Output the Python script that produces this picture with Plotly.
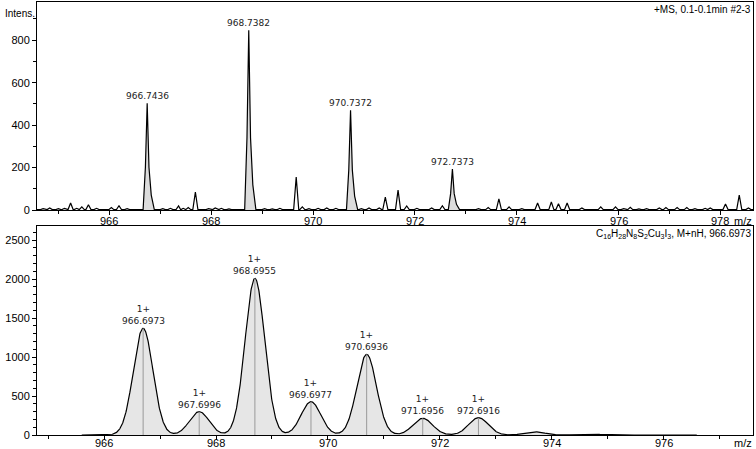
import numpy as np
import plotly.graph_objects as go

# ---------------- data ----------------
# top panel: measured spectrum (+MS)
main_mz = [966.7436, 968.7382, 970.7372, 972.7373]
main_int = [503, 847, 470, 193]
noise_mz = [964.70, 964.83, 965.00, 965.12, 965.24, 965.36, 965.46, 965.59, 965.75, 965.88,
            966.04, 966.19, 966.35, 967.05, 967.20, 967.36, 967.45, 967.55, 967.69, 967.95,
            968.08, 968.20, 968.35, 969.05, 969.20, 969.35, 969.67, 969.79, 969.92, 970.10,
            970.27, 970.45, 970.95, 971.10, 971.30, 971.42, 971.67, 971.84, 972.04, 972.20,
            972.33, 972.54, 973.05, 973.25, 973.44, 973.65, 973.85, 974.10, 974.41, 974.68,
            974.82, 974.99, 975.28, 975.45, 975.65, 975.94, 976.10, 976.23, 976.40, 976.55,
            976.80, 976.93, 977.15, 977.34, 977.50, 977.70, 977.80, 978.10, 978.37, 978.55]
noise_int = [6, 10, 6, 8, 33, 8, 15, 25, 8, 5,
             12, 20, 6, 6, 8, 19, 8, 12, 85, 6,
             10, 8, 5, 6, 5, 8, 155, 15, 6, 8,
             10, 8, 6, 10, 10, 61, 94, 19, 8, 5,
             10, 20, 5, 6, 12, 52, 15, 6, 33, 38,
             30, 33, 10, 5, 15, 15, 6, 13, 5, 6,
             10, 12, 12, 12, 6, 8, 10, 28, 70, 10]

# bottom panel: simulated isotope pattern
iso_mz = [966.6973, 967.6996, 968.6955, 969.6977, 970.6936, 971.6956, 972.6916, 973.69, 974.69]
iso_int = [1368, 299, 2009, 427, 1034, 214, 222, 42, 12]
iso_labels = ["966.6973", "967.6996", "968.6955", "969.6977", "970.6936", "971.6956", "972.6916"]
iso_charge = "1+"

top_x_ticks = [966, 968, 970, 972, 974, 976, 978]
bot_x_ticks = [966, 968, 970, 972, 974, 976]

# ---------------- build profiles ----------------
base = 2.0
verts = []
for m, h in zip(noise_mz, noise_int):
    verts += [(m - 0.05, base), (m, h), (m + 0.05, base)]
main_shapes = []
for m, h in zip(main_mz, main_int):
    seg = [(m - 0.08, base), (m - 0.035, h * 0.4), (m, h), (m + 0.035, h * 0.4),
           (m + 0.08, h * 0.14), (m + 0.14, base)]
    verts += seg
    main_shapes.append(seg)
verts += [(964.58, base), (978.64, base)]
verts.sort(key=lambda v: v[0])
top_x = [v[0] for v in verts]
top_y = [v[1] for v in verts]

sigma = 0.175
bx = np.arange(965.6, 976.6, 0.005)
by = np.zeros_like(bx)
for m, h in zip(iso_mz, iso_int):
    by += h * np.exp(-0.5 * ((bx - m) / sigma) ** 2)

# ---------------- figure ----------------
fig = go.Figure()
FILL = "#dcdcdc"
for seg in main_shapes:
    fig.add_trace(go.Scatter(x=[p[0] for p in seg], y=[p[1] for p in seg], mode="lines",
                             line=dict(width=0), fill="tozeroy", fillcolor=FILL,
                             xaxis="x", yaxis="y", hoverinfo="skip", showlegend=False))
fig.add_trace(go.Scatter(x=top_x, y=top_y, mode="lines", line=dict(color="black", width=1.2),
                         xaxis="x", yaxis="y", showlegend=False))

fig.add_trace(go.Scatter(x=bx, y=by, mode="lines", line=dict(color="black", width=1.2),
                         fill="tozeroy", fillcolor="#e6e6e6",
                         xaxis="x2", yaxis="y2", showlegend=False))
# stick lines at peak centres
sx, sy = [], []
for m, h in zip(iso_mz[:7], iso_int[:7]):
    sx += [m, m, None]
    sy += [0, h, None]
fig.add_trace(go.Scatter(x=sx, y=sy, mode="lines", line=dict(color="#9a9a9a", width=1),
                         xaxis="x2", yaxis="y2", showlegend=False, hoverinfo="skip"))

LAB = dict(family="DejaVu Sans", size=9, color="#222")
ann = []
for m, h in zip(main_mz, main_int):
    ann.append(dict(x=m, y=h, xref="x", yref="y", text=f"{m:.4f}", showarrow=False,
                    yanchor="bottom", yshift=0, font=LAB))
for m, h, t in zip(iso_mz, iso_int, iso_labels):
    ann.append(dict(x=m, y=h, xref="x2", yref="y2", text=f"{iso_charge}<br>{t}", showarrow=False,
                    yanchor="bottom", yshift=0, font=LAB))

TICKF = dict(family="Liberation Sans", size=11, color="black")
for v in top_x_ticks:
    ann.append(dict(x=v, y=0, xref="x", yref="y", text=str(v), showarrow=False,
                    yanchor="middle", yshift=-11, font=TICKF))
for v in bot_x_ticks:
    ann.append(dict(x=v, y=0, xref="x2", yref="y2", text=str(v), showarrow=False,
                    yanchor="middle", yshift=-8, font=TICKF))

TXT = dict(family="Liberation Sans", size=10, color="black")
ann += [
    dict(x=-0.047, y=1.0, xref="paper", yref="paper", text="Intens.", showarrow=False,
         xanchor="left", yanchor="top", yshift=-4, font=TXT),
    dict(x=1.0, y=1.0, xref="paper", yref="paper", text="+MS, 0.1-0.1min #2-3", showarrow=False,
         xanchor="right", yanchor="top", yshift=0, font=TXT),
    dict(x=1.0, y=0.4827, xref="paper", yref="paper",
         text="C<sub>16</sub>H<sub>28</sub>N<sub>8</sub>S<sub>2</sub>Cu<sub>3</sub>I<sub>3</sub>, M+nH, 966.6973",
         showarrow=False, xanchor="right", yanchor="top", font=TXT),
    dict(x=978.22, y=0, xref="x", yref="y", text="m/z", showarrow=False, xanchor="left",
         yanchor="middle", yshift=-11, font=TICKF),
    dict(x=977.22, y=0, xref="x2", yref="y2", text="m/z", showarrow=False, xanchor="left",
         yanchor="middle", yshift=-8, font=TICKF),
]

AX = dict(showline=True, linecolor="black", linewidth=1, mirror=True, showgrid=False,
          zeroline=False, ticks="outside", ticklen=4, tickcolor="black", automargin=False,
          tickfont=dict(family="Liberation Sans", size=11, color="black"))

fig.update_layout(
    width=756, height=449, margin=dict(l=37, r=3, t=2, b=14),
    plot_bgcolor="white", paper_bgcolor="white", annotations=ann,
    xaxis=dict(AX, domain=[0, 1], range=[964.58, 978.64], anchor="y", tickvals=top_x_ticks,
               showticklabels=False,
               minor=dict(dtick=1, ticklen=3, ticks="outside", tickcolor="black")),
    yaxis=dict(AX, domain=[0.5196, 1], range=[0, 980], anchor="x", dtick=200,
               minor=dict(dtick=100, ticklen=3, ticks="outside", tickcolor="black")),
    xaxis2=dict(AX, domain=[0, 1], range=[964.8, 977.6], anchor="y2", tickvals=bot_x_ticks,
                showticklabels=False,
                minor=dict(dtick=1, ticklen=3, ticks="outside", tickcolor="black")),
    yaxis2=dict(AX, domain=[0, 0.4827], range=[0, 2680], anchor="x2", dtick=500,
                minor=dict(dtick=100, ticklen=3, ticks="outside", tickcolor="black")),
)
fig.write_html("out.html", config={"displayModeBar": False},
               post_script="document.body.style.margin='0px';document.body.style.padding='0px';")
